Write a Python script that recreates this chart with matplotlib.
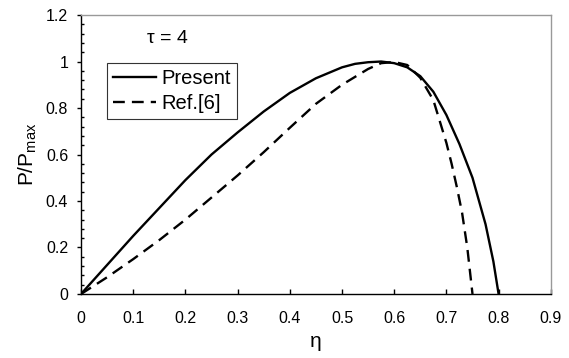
import matplotlib
matplotlib.use("Agg")
import matplotlib.pyplot as plt
from matplotlib.ticker import MultipleLocator, FuncFormatter

plt.rcParams['font.family'] = ['Liberation Sans', 'DejaVu Sans']

# Present model
eta_present = [0.0, 0.05, 0.10, 0.15, 0.20, 0.25, 0.30, 0.35, 0.40, 0.45, 0.50,
               0.525, 0.55, 0.575, 0.60, 0.625, 0.65, 0.675, 0.70, 0.725, 0.75,
               0.775, 0.79, 0.80]
p_present = [0.0, 0.125, 0.25, 0.37, 0.49, 0.60, 0.695, 0.785, 0.865, 0.928, 0.975,
             0.99, 0.997, 1.0, 0.993, 0.975, 0.937, 0.87, 0.77, 0.645, 0.50,
             0.30, 0.14, 0.0]

# Ref.[6]
eta_ref = [0.0, 0.05, 0.10, 0.15, 0.20, 0.25, 0.30, 0.35, 0.40, 0.45, 0.50,
           0.55, 0.575, 0.60, 0.625, 0.65, 0.675, 0.70, 0.71, 0.72, 0.73, 0.74, 0.75]
p_ref = [0.0, 0.072, 0.150, 0.232, 0.32, 0.415, 0.51, 0.61, 0.715, 0.818, 0.90,
         0.968, 0.993, 0.998, 0.985, 0.93, 0.834, 0.65, 0.56, 0.46, 0.35, 0.20, 0.0]

fig = plt.figure(figsize=(5.69, 3.58), dpi=100)
ax = fig.add_axes([0.1424, 0.1788, 0.8256, 0.7792])

ax.plot(eta_present, p_present, color='black', lw=1.7, label='Present')
ax.plot(eta_ref, p_ref, color='black', lw=1.7, linestyle=(0, (5, 3)), label='Ref.[6]')

ax.set_xlim(0, 0.9)
ax.set_ylim(0, 1.2)
ax.xaxis.set_major_locator(MultipleLocator(0.1))
ax.yaxis.set_major_locator(MultipleLocator(0.2))
ax.yaxis.set_minor_locator(MultipleLocator(0.04))

fmt = FuncFormatter(lambda v, p: ('%g' % round(v, 2)))
ax.xaxis.set_major_formatter(fmt)
ax.yaxis.set_major_formatter(fmt)

ax.tick_params(axis='x', which='major', direction='in', length=3.6, width=1, labelsize=11.5, pad=12.5)
ax.tick_params(axis='y', which='major', direction='out', length=2.7, width=1, labelsize=11.5, pad=6.5)
ax.tick_params(axis='y', which='minor', direction='in', length=2, width=1)

for s in ['left', 'bottom']:
    ax.spines[s].set_color('black')
    ax.spines[s].set_linewidth(1.0)
for s in ['top', 'right']:
    ax.spines[s].set_color('#999999')
    ax.spines[s].set_linewidth(1.0)

ax.set_xlabel('η', fontsize=15, labelpad=4)
ax.set_ylabel('P/P$_{\\mathregular{max}}$', fontsize=15, labelpad=5)

ax.text(0.166, 1.097, 'τ = 4', fontsize=14, ha='center', va='center', transform=ax.transData)

leg = ax.legend(loc='upper left', bbox_to_anchor=(0.0553, 0.828), fontsize=14.5, frameon=True,
                fancybox=False, framealpha=1, edgecolor='#333333', handlelength=2.15,
                handletextpad=0.25, borderpad=0.3, labelspacing=0.3, borderaxespad=0)
leg.get_frame().set_linewidth(0.8)

fig.savefig('out.png', dpi=100)
